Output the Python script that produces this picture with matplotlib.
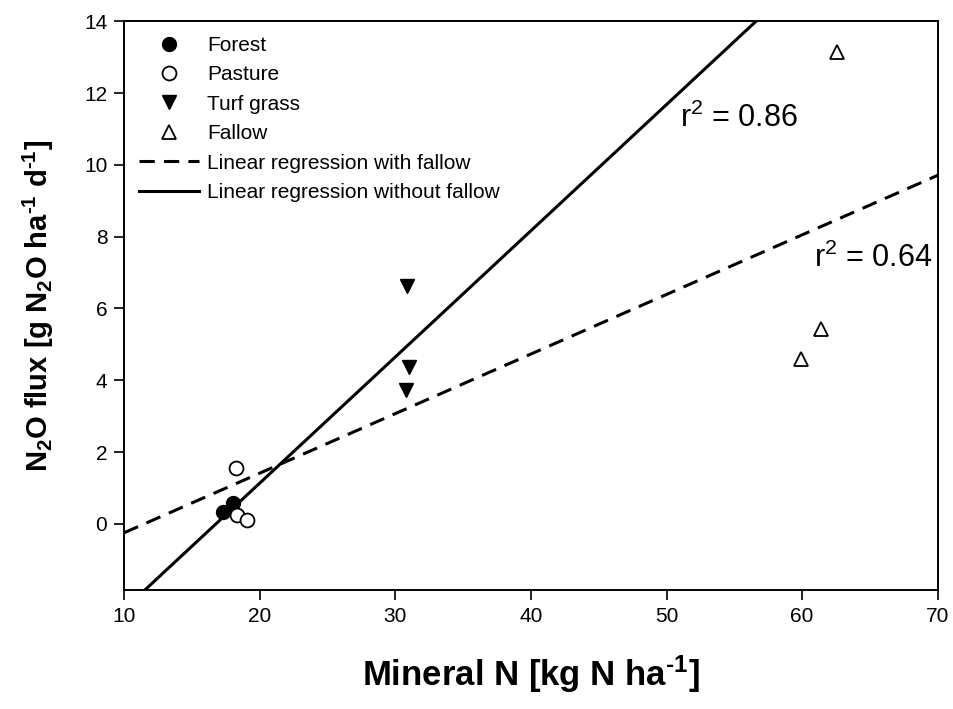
import numpy as np
import matplotlib
matplotlib.use("Agg")
import matplotlib.pyplot as plt

plt.rcParams["font.family"] = ["Liberation Sans", "DejaVu Sans"]
plt.rcParams["mathtext.fontset"] = "custom"
plt.rcParams["mathtext.rm"] = "Liberation Sans"
plt.rcParams["mathtext.it"] = "Liberation Sans"
plt.rcParams["mathtext.bf"] = "Liberation Sans:bold"

# data
forest_x = [17.3, 18.0]
forest_y = [0.33, 0.58]
pasture_x = [18.25, 18.3, 19.05]
pasture_y = [1.56, 0.25, 0.11]
turf_x = [30.9, 31.0, 30.8]
turf_y = [6.63, 4.37, 3.73]
fallow_x = [62.6, 61.4, 59.9]
fallow_y = [13.15, 5.43, 4.6]

# regression coefficients (slope, intercept)
fit_with_fallow = (0.166, -1.91)
fit_without_fallow = (0.3516, -5.90)
r2_with = 0.64
r2_without = 0.86

fig = plt.figure(figsize=(9.54, 7.09), dpi=100)
ax = fig.add_axes([0.130, 0.168, 0.853, 0.802])

ms = 10
ax.plot(forest_x, forest_y, "o", color="k", ms=ms, label="Forest")
ax.plot(pasture_x, pasture_y, "o", mfc="white", mec="k", mew=1.3, ms=ms, label="Pasture")
ax.plot(turf_x, turf_y, "v", color="k", ms=ms, label="Turf grass")
ax.plot(fallow_x, fallow_y, "^", mfc="white", mec="k", mew=1.3, ms=ms, label="Fallow")

xs = np.array([10, 70])
ax.plot(xs, fit_with_fallow[0] * xs + fit_with_fallow[1], "k--", lw=2.2,
        dashes=(5, 3), label="Linear regression with fallow")
ax.plot(xs, fit_without_fallow[0] * xs + fit_without_fallow[1], "k-", lw=2.2,
        label="Linear regression without fallow")

ax.text(51.0, 11.3, f"r$^2$ = {r2_without:.2f}", fontsize=22, va="center")
ax.text(60.9, 7.4, f"r$^2$ = {r2_with:.2f}", fontsize=22, va="center")

ax.set_xlim(10, 70)
ax.set_ylim(-1.84, 14)
ax.set_xticks(range(10, 71, 10))
ax.set_yticks(range(0, 15, 2))
ax.tick_params(direction="out", length=7, width=1.2, labelsize=15, pad=5)
for s in ax.spines.values():
    s.set_linewidth(1.4)

hy = "\u2010"
ax.set_xlabel(r"Mineral N [kg N ha$^\mathbf{" + hy + r"1}$]", fontsize=25,
              fontweight="bold", labelpad=20)
ax.set_ylabel(r"N$_\mathbf{2}$O flux [g N$_\mathbf{2}$O ha$^\mathbf{" + hy
              + r"1}$ d$^\mathbf{" + hy + r"1}$]",
              fontsize=21, fontweight="bold", labelpad=20)

leg = ax.legend(loc="upper left", frameon=False, fontsize=15, handlelength=2.9,
                handletextpad=0.4, labelspacing=0.5, borderaxespad=0.3,
                bbox_to_anchor=(0.0, 1.0))
for h in leg.legend_handles[:4]:
    h.set_markersize(10)

fig.savefig("out.png", dpi=100)
